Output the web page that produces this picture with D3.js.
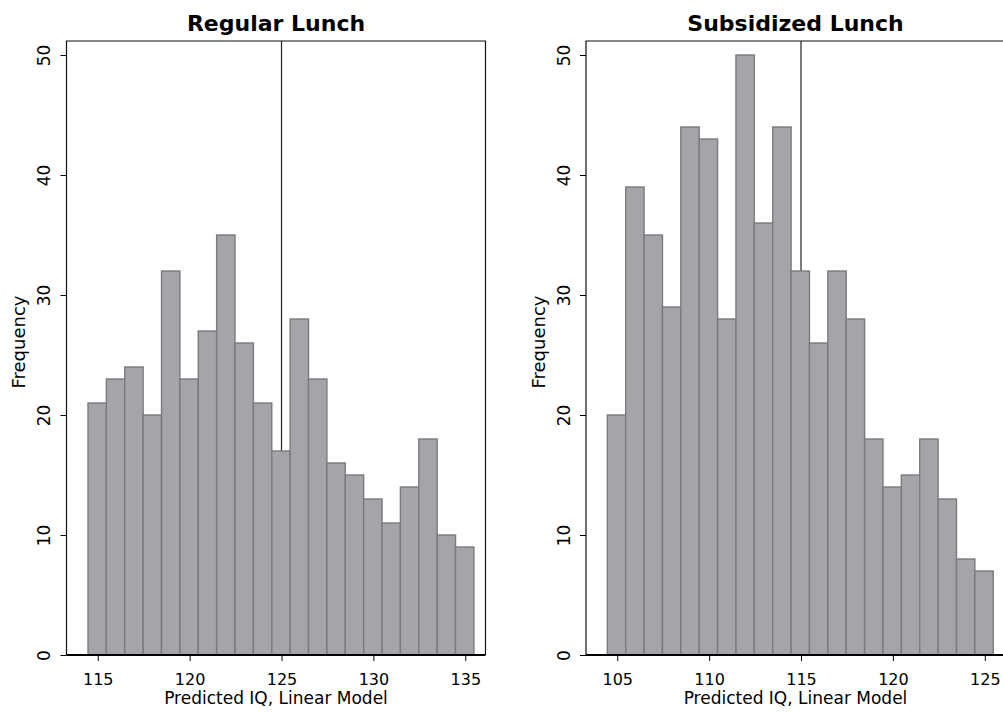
<!DOCTYPE html>
<html>
<head>
<meta charset="utf-8">
<script src="https://cdn.jsdelivr.net/npm/d3@7"></script>
<style>
  body { margin: 0; background: #fff; }
  svg { display: block; }
</style>
</head>
<body>
<div id="chart"></div>
<script>
// Histogram counts
const regularCounts = [21, 23, 24, 20, 32, 23, 27, 35, 26, 21, 17, 28, 23, 16, 15, 13, 11, 14, 18, 10, 9];
const subsidizedCounts = [20, 39, 35, 29, 44, 43, 28, 50, 36, 44, 32, 26, 32, 28, 18, 14, 15, 18, 13, 8, 7];

// Bin edges (width 1)
const regularEdges = [114.47, 115.47, 116.47, 117.47, 118.47, 119.47, 120.47, 121.47, 122.47, 123.47, 124.47,
    125.47, 126.47, 127.47, 128.47, 129.47, 130.47, 131.47, 132.47, 133.47, 134.47, 135.47];
const subsidizedEdges = [104.46, 105.46, 106.46, 107.46, 108.46, 109.46, 110.46, 111.46, 112.46, 113.46, 114.46,
    115.46, 116.46, 117.46, 118.46, 119.46, 120.46, 121.46, 122.46, 123.46, 124.46, 125.46];

// Axis ticks and ranges
const regularTicks = [115, 120, 125, 130, 135];
const subsidizedTicks = [105, 110, 115, 120, 125];
const regularDomain = [113.3, 136.1];
const subsidizedDomain = [103.3, 126.1];
const yTicks = [0, 10, 20, 30, 40, 50];

// Reference lines
const regularLine = 125;
const subsidizedLine = 115;

const width = 1003;
const height = 712;
const frameTop = 41;
const frameW = 419;

const svg = d3.select("#chart").append("svg")
    .attr("width", width)
    .attr("height", height);

const y = d3.scaleLinear()
    .domain([0, 50])
    .range([655, 55]);

const panels = [
    { title: "Regular Lunch", counts: regularCounts, edges: regularEdges, ticks: regularTicks,
      domain: regularDomain, line: regularLine, left: 66.5 },
    { title: "Subsidized Lunch", counts: subsidizedCounts, edges: subsidizedEdges, ticks: subsidizedTicks,
      domain: subsidizedDomain, line: subsidizedLine, left: 586 }
];

const font = "'DejaVu Sans', sans-serif";

panels.forEach(p => {
    const g = svg.append("g");
    const x = d3.scaleLinear()
        .domain(p.domain)
        .range([p.left, p.left + frameW]);
    const cx = p.left + frameW / 2;

    // reference line (behind bars)
    g.append("line")
        .attr("x1", x(p.line)).attr("x2", x(p.line))
        .attr("y1", frameTop).attr("y2", y(0))
        .attr("stroke", "#222")
        .attr("stroke-width", 1.2);

    // bars
    g.append("g")
        .selectAll("rect")
        .data(p.counts)
        .enter().append("rect")
        .attr("x", (d, i) => x(p.edges[i]))
        .attr("width", (d, i) => x(p.edges[i + 1]) - x(p.edges[i]))
        .attr("y", d => y(d))
        .attr("height", d => y(0) - y(d))
        .attr("fill", "#a5a4a8")
        .attr("stroke", "#7b7a7e")
        .attr("stroke-width", 1.4);

    // frame: left, top, right
    g.append("path")
        .attr("d", `M${p.left},${y(0)}V${frameTop}H${p.left + frameW}V${y(0)}`)
        .attr("fill", "none")
        .attr("stroke", "#111")
        .attr("stroke-width", 1.2);

    // thick baseline
    g.append("line")
        .attr("x1", p.left).attr("x2", p.left + frameW)
        .attr("y1", y(0)).attr("y2", y(0))
        .attr("stroke", "#000")
        .attr("stroke-width", 2.2);

    // y axis
    const yAxis = g.append("g")
        .attr("transform", `translate(${p.left},0)`)
        .call(d3.axisLeft(y).tickValues(yTicks).tickSize(6));
    yAxis.select(".domain").remove();
    yAxis.selectAll("line").attr("stroke", "#000");
    yAxis.selectAll("text")
        .attr("x", null)
        .attr("dy", null)
        .attr("text-anchor", "middle")
        .attr("transform", "translate(-16.5,0) rotate(-90)")
        .attr("fill", "#000")
        .style("font-family", font)
        .style("font-size", "17px");

    // x axis
    const xAxis = g.append("g")
        .attr("transform", `translate(0,${y(0)})`)
        .call(d3.axisBottom(x).tickValues(p.ticks).tickSize(6).tickPadding(13));
    xAxis.select(".domain").remove();
    xAxis.selectAll("line").attr("stroke", "#000");
    xAxis.selectAll("text")
        .attr("fill", "#000")
        .style("font-family", font)
        .style("font-size", "16px");

    // titles
    g.append("text")
        .attr("x", cx)
        .attr("y", 31)
        .attr("text-anchor", "middle")
        .style("font-family", font)
        .style("font-weight", "bold")
        .style("font-size", "22px")
        .text(p.title);

    g.append("text")
        .attr("x", cx)
        .attr("y", 704)
        .attr("text-anchor", "middle")
        .style("font-family", font)
        .style("font-size", "17px")
        .text("Predicted IQ, Linear Model");

    g.append("text")
        .attr("transform", `translate(${p.left - 41.5},342) rotate(-90)`)
        .attr("text-anchor", "middle")
        .style("font-family", font)
        .style("font-size", "18px")
        .text("Frequency");
});
</script>
</body>
</html>
